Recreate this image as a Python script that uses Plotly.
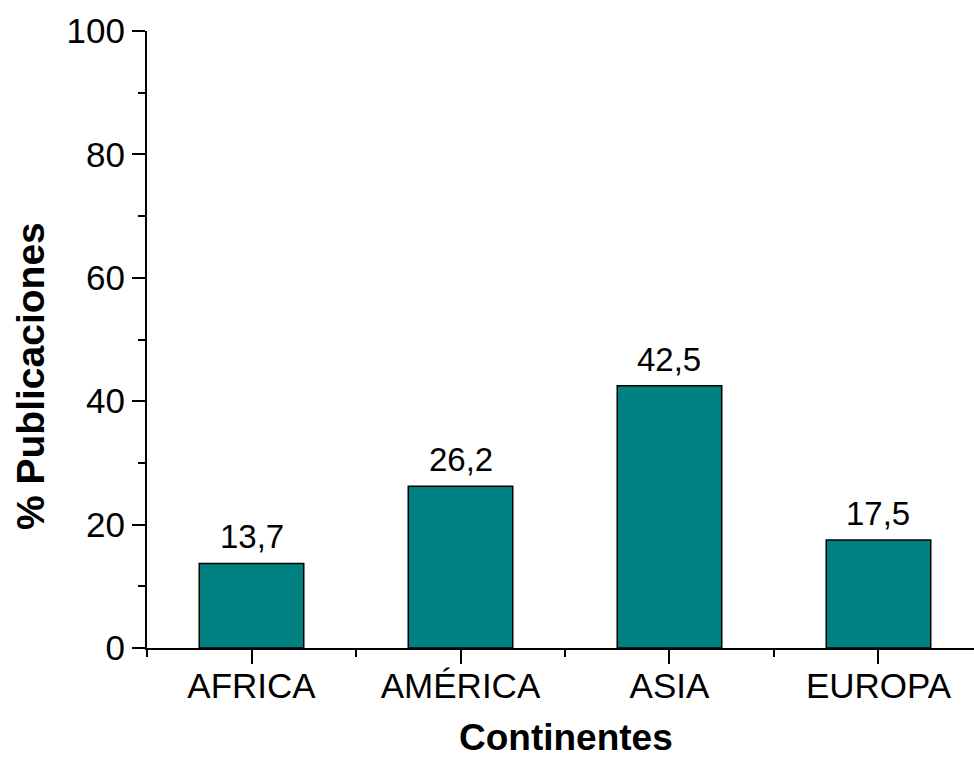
import plotly.graph_objects as go

# Share of publications by continent (%)
continents = ["AFRICA", "AMÉRICA", "ASIA", "EUROPA"]
percent = [13.7, 26.2, 42.5, 17.5]

y_ticks = [0, 20, 40, 60, 80, 100]
x_title = "Continentes"
y_title = "% Publicaciones"

positions = list(range(len(continents)))

FONT = "Liberation Sans, Arial, sans-serif"
TEAL = "#008080"

W, H = 974, 760
ML, MT, MB = 147, 31, 112
PW, PH = W - ML, H - MT - MB


def px_to_paper(px, py):
    """Pixel position in the page -> paper coordinates of the plot area."""
    return (px - ML) / PW, (H - MB - py) / PH


fig = go.Figure(
    go.Bar(
        x=positions,
        y=percent,
        width=0.5,
        marker=dict(color=TEAL, line=dict(color="black", width=1.5)),
        hoverinfo="skip",
    )
)

# value labels above the bars
for xp, v in zip(positions, percent):
    fig.add_annotation(
        x=xp, y=v, xref="x", yref="y",
        text=f"{v:.1f}".replace(".", ","),
        showarrow=False, xanchor="center", yanchor="bottom", yshift=6,
        font=dict(family=FONT, size=33, color="black"),
    )

# axis titles
tx, ty = px_to_paper(566, 759)
fig.add_annotation(
    x=tx, y=ty, xref="paper", yref="paper", text=f"<b>{x_title}</b>",
    xanchor="center", yanchor="bottom", borderpad=0,
    showarrow=False, font=dict(family=FONT, size=37, color="black"),
)
tx, ty = px_to_paper(30, 376)
fig.add_annotation(
    x=tx, y=ty, xref="paper", yref="paper", text=f"<b>{y_title}</b>",
    textangle=-90, xanchor="center", yanchor="middle",
    showarrow=False, font=dict(family=FONT, size=39, color="black"),
)

fig.update_layout(
    width=W, height=H,
    margin=dict(l=ML, r=0, t=MT, b=MB),
    paper_bgcolor="white", plot_bgcolor="white",
    showlegend=False,
    font=dict(family=FONT, color="black"),
    xaxis=dict(
        range=[-0.5, 3.457],
        tickmode="array", tickvals=positions, ticktext=continents,
        ticks="outside", ticklen=14, tickwidth=2, tickcolor="black",
        ticklabelstandoff=-8,
        minor=dict(tickmode="array", tickvals=[-0.5, 0.5, 1.5, 2.5, 3.5],
                   ticks="outside", ticklen=7, tickwidth=2, tickcolor="black"),
        showline=True, linecolor="black", linewidth=2,
        showgrid=False, zeroline=False,
        tickfont=dict(family=FONT, size=35, color="black"),
    ),
    yaxis=dict(
        range=[0, 100],
        tickmode="array", tickvals=y_ticks,
        ticks="outside", ticklen=13, tickwidth=2, tickcolor="black",
        minor=dict(tickmode="array", tickvals=[10, 30, 50, 70, 90],
                   ticks="outside", ticklen=7, tickwidth=2, tickcolor="black"),
        showline=True, linecolor="black", linewidth=2,
        showgrid=False, zeroline=False,
        tickfont=dict(family=FONT, size=35, color="black"),
    ),
)

fig.write_html("out.html")
